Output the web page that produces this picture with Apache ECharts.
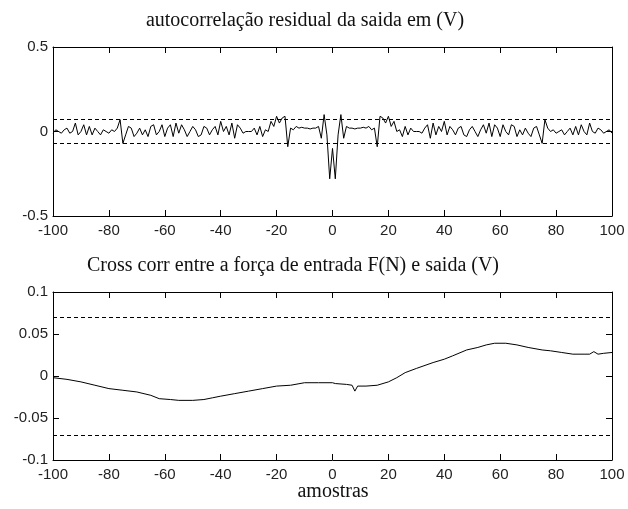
<!DOCTYPE html>
<html>
<head>
<meta charset="utf-8">
<script src="https://cdn.jsdelivr.net/npm/echarts@6/dist/echarts.min.js"></script>
<style>
  html, body { margin: 0; padding: 0; background: #fff; }
  #chart { width: 628px; height: 509px; }
</style>
</head>
<body>
<div id="chart"></div>
<script>
// residual autocorrelation, lags 0..100 (the plot is symmetric about lag 0)
var acfLagsPos = [];
for (var k = 0; k <= 100; k++) acfLagsPos.push(k);
var acfPos = [
  -0.10, -0.28, -0.02, 0.10, -0.04, 0.03, 0.02, 0.02, 0.015, 0.02,
  0.02, 0.025, 0.02, 0.03, 0.01, 0.02, -0.09, 0.09, 0.08, 0.05,
  0.09, 0.03, 0.06, 0.0, 0.01, -0.03, 0.03, -0.02, 0.02, 0.0,
  0.0, 0.0, -0.01, 0.02, 0.04, -0.04, 0.05, -0.02, 0.03, 0.0,
  0.06, -0.02, 0.03, 0.01, -0.02, 0.02, 0.03, -0.02, -0.03, 0.01,
  0.03, 0.0, -0.03, 0.01, 0.04, -0.01, 0.05, -0.03, 0.04, 0.02,
  -0.03, 0.04, 0.0, -0.02, 0.04, 0.03, -0.03, 0.01, -0.02, 0.02,
  -0.01, -0.03, 0.02, 0.03, -0.02, -0.07, 0.07, 0.02, 0.0, 0.01,
  -0.01, 0.0, 0.01, -0.02, 0.0, 0.02, -0.02, 0.03, -0.02, 0.04,
  0.0, -0.02, 0.05, 0.0, -0.01, 0.02, 0.01, -0.01, 0.0, 0.01,
  -0.01
];

// cross correlation force F(N) -> output (V)
var xccLags = [-100, -95, -90, -85, -80, -75, -70, -65, -62, -58, -55, -50, -46, -43, -40,
  -35, -30, -25, -20, -15, -10, -5, 0, 1, 5, 7, 8, 9, 12, 16, 20, 23, 26, 30, 36, 40,
  43, 48, 52, 55, 58, 62, 66, 70, 75, 78, 82, 86, 90, 92, 93.5, 95, 97, 100];
var xccVals = [-0.002, -0.004, -0.007, -0.011, -0.015, -0.017, -0.019, -0.023, -0.027, -0.028,
  -0.029, -0.029, -0.028, -0.026, -0.024, -0.021, -0.018, -0.015, -0.012, -0.011, -0.008,
  -0.008, -0.008, -0.009, -0.010, -0.011, -0.018, -0.012, -0.012, -0.011, -0.007, -0.002,
  0.004, 0.009, 0.016, 0.020, 0.024, 0.031, 0.034, 0.037, 0.039, 0.039, 0.037, 0.034,
  0.031, 0.030, 0.028, 0.026, 0.026, 0.026, 0.029, 0.026, 0.027, 0.028];

var confBound = 0.073;
var xTicks = [-100, -80, -60, -40, -20, 0, 20, 40, 60, 80, 100];

var acfData = [];
for (var i = 100; i >= 1; i--) acfData.push([-acfLagsPos[i], acfPos[i]]);
for (var j = 0; j <= 100; j++) acfData.push([acfLagsPos[j], acfPos[j]]);
var xccData = xccLags.map(function (l, i) { return [l, xccVals[i]]; });

var chart = echarts.init(document.getElementById('chart'));

var labelStyle = { color: '#222', fontFamily: 'Liberation Sans', fontSize: 15 };

function xAx(grid, pos, show) {
  return {
    type: 'value', gridIndex: grid, position: pos,
    min: xTicks[0], max: xTicks[xTicks.length - 1], interval: 20,
    axisLine: { show: true, onZero: false, lineStyle: { color: '#000', width: 1 } },
    axisTick: { show: true, inside: true, length: 6, lineStyle: { color: '#000' } },
    axisLabel: Object.assign({ show: show, margin: 7 }, labelStyle),
    splitLine: { show: false }
  };
}
function yAx(grid, pos, show, mn, mx, step) {
  return {
    type: 'value', gridIndex: grid, position: pos,
    min: mn, max: mx, interval: step,
    axisLine: { show: true, onZero: false, lineStyle: { color: '#000', width: 1 } },
    axisTick: { show: true, inside: true, length: 6, lineStyle: { color: '#000' } },
    axisLabel: Object.assign({ show: show, margin: 5 }, labelStyle),
    splitLine: { show: false }
  };
}

function bounds() {
  return {
    silent: true,
    symbol: ['none', 'none'],
    label: { show: false },
    lineStyle: { color: '#000', type: [4, 3], width: 1 },
    data: [{ yAxis: confBound }, { yAxis: -confBound }]
  };
}

chart.setOption({
  animation: false,
  backgroundColor: '#fff',
  grid: [
    { left: 53, top: 47, width: 559, height: 169 },
    { left: 53, top: 292, width: 559, height: 168 }
  ],
  xAxis: [xAx(0, 'bottom', true), xAx(0, 'top', false), xAx(1, 'bottom', true), xAx(1, 'top', false)],
  yAxis: [
    yAx(0, 'left', true, -0.5, 0.5, 0.5), yAx(0, 'right', false, -0.5, 0.5, 0.5),
    yAx(1, 'left', true, -0.1, 0.1, 0.05), yAx(1, 'right', false, -0.1, 0.1, 0.05)
  ],
  graphic: [
    { type: 'text', x: 305, y: 21, style: { text: 'autocorrelação residual da saida em (V)', fill: '#111', font: '20px "Liberation Serif"', textAlign: 'center', textVerticalAlign: 'middle' } },
    { type: 'text', x: 293, y: 266, style: { text: 'Cross corr entre a força de entrada F(N) e saida (V)', fill: '#111', font: '20px "Liberation Serif"', textAlign: 'center', textVerticalAlign: 'middle' } },
    { type: 'text', x: 333, y: 492, style: { text: 'amostras', fill: '#111', font: '20px "Liberation Serif"', textAlign: 'center', textVerticalAlign: 'middle' } }
  ],
  series: [
    {
      type: 'line', xAxisIndex: 0, yAxisIndex: 0, data: acfData,
      showSymbol: false, lineStyle: { color: '#000', width: 1 },
      markLine: bounds()
    },
    {
      type: 'line', xAxisIndex: 2, yAxisIndex: 2, data: xccData,
      showSymbol: false, lineStyle: { color: '#000', width: 1 },
      markLine: bounds()
    }
  ]
});
</script>
</body>
</html>
